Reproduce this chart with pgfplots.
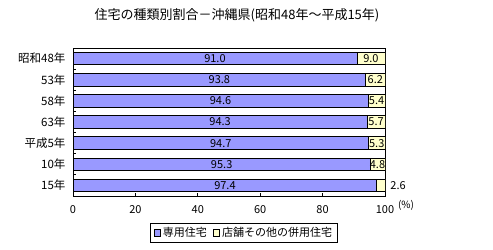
\documentclass[border=0pt]{standalone}
\usepackage{pgfplots}
\pgfplotsset{compat=1.18}
\usepackage{pgfplotstable}
\usepackage{fontspec}
\setmainfont{Noto Sans CJK JP}

\definecolor{c1}{RGB}{153,153,255}
\definecolor{c2}{RGB}{255,255,204}

\pgfplotstableread{
idx a b pos
0 91.0 9.0 95.5
1 93.8 6.2 96.9
2 94.6 5.4 97.3
3 94.3 5.7 97.15
4 94.7 5.3 97.35
5 95.3 4.8 97.6
6 97.4 2.6 104.2
}\data

\begin{document}
\begin{tikzpicture}
\path[use as bounding box] (0bp,0bp) rectangle (493bp,250bp);
\begin{axis}[
  at={(73bp,54bp)}, anchor=south west,
  scale only axis, width=312bp, height=148bp,
  xbar stacked, bar width=12.5bp,
  xmin=0, xmax=100, ymin=-0.5, ymax=6.5, y dir=reverse,
  axis line style={black, line width=0.8bp},
  xtick={0,20,...,100},
  xtick pos=left, ytick pos=left,
  tick align=inside, major tick length=3bp,
  tick style={black, line width=0.8bp},
  ytick={0.5,1.5,...,5.5}, yticklabels={},
  extra y ticks={0,1,2,3,4,5,6},
  extra y tick labels={昭和48年,53年,58年,63年,平成5年,10年,15年},
  extra y tick style={major tick length=0pt},
  yticklabel style={font=\fontsize{11.5bp}{13bp}\selectfont, xshift=-4bp},
  xticklabel style={font=\fontsize{11bp}{13bp}\selectfont, yshift=-6bp},
  /pgf/number format/assume math mode=true,
  legend style={at={(0.548,-0.25)}, anchor=center, legend columns=2,
    draw=black, line width=0.8bp, font=\fontsize{11bp}{13bp}\selectfont,
    /tikz/every even column/.append style={column sep=4bp},
    inner ysep=2bp, inner xsep=3bp},
  legend image code/.code={\draw[#1, draw=black, line width=0.6bp] (0bp,-3bp) rectangle (6.5bp,3.5bp);},
]
\addplot[fill=c1, draw=black, line width=0.8bp] table[x=a, y=idx] {\data};
\addplot[fill=c2, draw=black, line width=0.8bp] table[x=b, y=idx] {\data};
\legend{専用住宅,店舗その他の併用住宅}
\end{axis}
\begin{axis}[
  at={(73bp,54bp)}, anchor=south west,
  scale only axis, width=312bp, height=148bp,
  xmin=0, xmax=100, ymin=-0.5, ymax=6.5, y dir=reverse,
  hide axis, clip=false,
  /pgf/number format/assume math mode=true,
  nodes near coords={\pgfmathprintnumber[fixed,fixed zerofill,precision=1,assume math mode=true]{\pgfplotspointmeta}},
  every node near coord/.append style={anchor=center, font=\fontsize{11bp}{13bp}\selectfont, black},
]
\addplot[only marks, mark=*, mark size=0pt, mark options={draw=none, fill=none}, point meta=explicit]
  table[x expr=\thisrow{a}/2, y=idx, meta=a] {\data};
\addplot[only marks, mark=*, mark size=0pt, mark options={draw=none, fill=none}, point meta=explicit]
  table[x=pos, y=idx, meta=b] {\data};
\end{axis}
\node[font=\fontsize{13bp}{15bp}\selectfont] at (237bp,235bp) {住宅の種類別割合－沖縄県(昭和48年～平成15年)};
\node[font=\fontsize{10bp}{12bp}\selectfont] at (406bp,45bp) {(\%)};
\end{tikzpicture}
\end{document}
